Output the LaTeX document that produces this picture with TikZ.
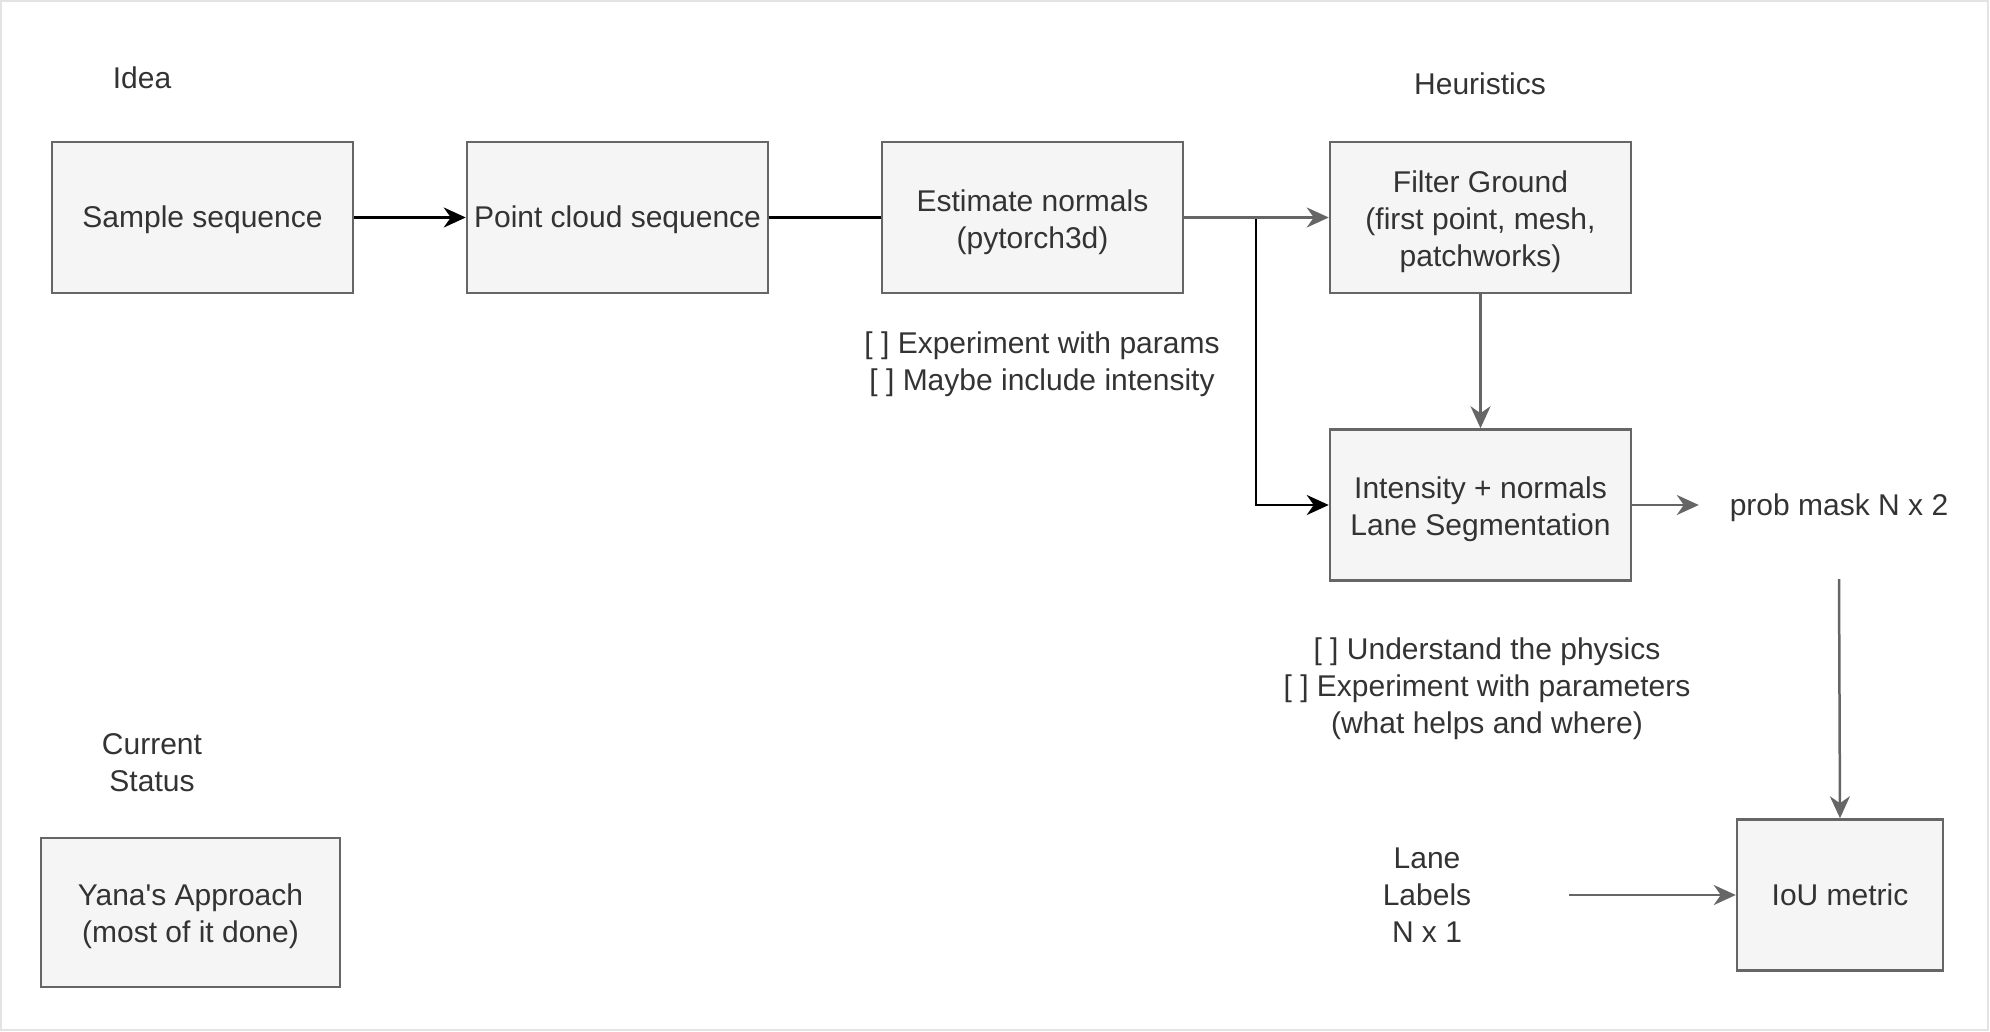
\documentclass[tikz,border=0pt]{standalone}
\usepackage{fontspec}
\setmainfont{Liberation Sans}
\newfontfamily\nomapfont{Liberation Sans}
\usetikzlibrary{arrows.meta}
\definecolor{boxfill}{HTML}{F5F5F5}
\definecolor{boxline}{HTML}{666666}
\definecolor{txt}{HTML}{333333}
\definecolor{frame}{HTML}{E3E3E3}
\newcommand\firstup[1]{\rule{0pt}{#1pt}}
\tikzset{
  every node/.style={font=\fontsize{30}{37}\selectfont, text=txt, align=center, execute at begin node={\rule[-6.5pt]{0pt}{33.5pt}}},
  stepbox/.style={draw=boxline, fill=boxfill, line width=2.5pt, minimum width=301pt, minimum height=151pt, inner sep=0pt},
  label text/.style={inner sep=0pt},
  tip/.style={-{Stealth[length=22pt,width=20pt,inset=7pt]}},
  blackline/.style={draw=black, line width=2.5pt},
  grayline/.style={draw=boxline, line width=2.5pt},
}
\begin{document}
\begin{tikzpicture}[x=1pt,y=-1pt]
\useasboundingbox (0,0) rectangle (1990,1032);
\draw[frame, line width=2pt] (1,1) rectangle (1988,1030);

\node[stepbox] (sample) at (202.5,217.5) {Sample sequence};
\node[stepbox] (pc) at (617.5,217.5) {Point cloud sequence};
\node[stepbox] (en) at (1032.5,217.5) {\firstup{32}Estimate normals\\(pytorch3d)};
\node[stepbox] (fg) at (1480.5,217.5) {\firstup{30}Filter Ground\\(first point, mesh,\\patchworks)};
\node[stepbox] (is) at (1480.5,505) {\firstup{30}Intensity + normals\\Lane Segmentation};
\node[stepbox, minimum width=206pt] (iou) at (1840,895) {IoU metric};
\node[stepbox, minimum width=299pt, minimum height=149pt] (yana) at (190.5,912.5) {\firstup{30}Yana{\nomapfont'}s Approach\\(most of it done)};

\node[label text] (idea) at (142,78) {Idea};
\node[label text] (heur) at (1480,84) {Heuristics};
\node[label text] (notes1) at (1042,361) {\firstup{28}[ ] Experiment with params\\{}[ ] Maybe include intensity};
\node[label text] (notes2) at (1487,686) {\firstup{28}[ ] Understand the physics\\{}[ ] Experiment with parameters\\(what helps and where)};
\node[label text] (status) at (152,763) {\firstup{26}Current\\Status};
\node[inner sep=0pt, minimum width=280pt, minimum height=148pt] (prob) at (1839,505) {prob mask N x 2};
\node[inner sep=0pt, minimum width=284pt, minimum height=110pt] (lane) at (1427,898.5) {Lane\\Labels\\N x 1};

\coordinate (branch) at (1256,217.5);

\draw[blackline, tip] (sample) -- (pc);
\draw[blackline] (pc) -- (en);
\draw[blackline, tip] (en.east) -- (branch) |- (is.west);
\draw[grayline, tip, boxline] (en) -- (fg);
\draw[grayline, tip, boxline] (fg) -- (is);
\draw[grayline, tip, boxline] (is) -- (prob);
\draw[grayline, tip, boxline] (prob.south) -- (iou.north);
\draw[grayline, tip, boxline] (lane.east |- iou.west) -- (iou.west);
\end{tikzpicture}
\end{document}
